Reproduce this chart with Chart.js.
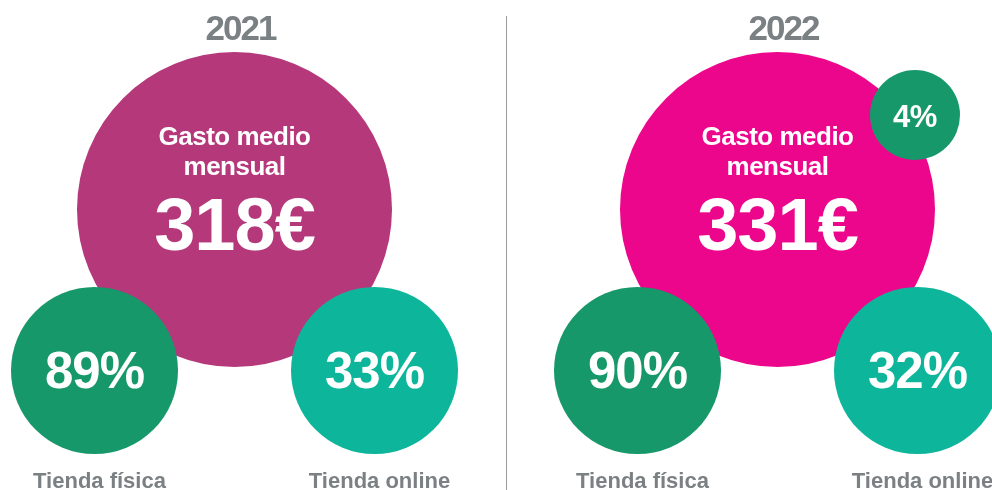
<!DOCTYPE html>
<html>
<head>
<meta charset="utf-8">
<script src="https://cdn.jsdelivr.net/npm/chart.js@4/dist/chart.umd.min.js"></script>
<style>
  html, body { margin: 0; padding: 0; background: #fff; }
  #chart { display: block; }
</style>
</head>
<body>
<canvas id="chart" width="992" height="490"></canvas>
<script>
// data
var years = ['2021', '2022'];
var gastoMedio = [318, 331];      // euros
var tiendaFisica = [89, 90];      // %
var tiendaOnline = [33, 32];      // %
var extraShare = [null, 4];       // small unlabelled bubble, only in 2022
var storeLabels = ['Tienda física', 'Tienda online'];

// layout (px, the scales below map 1 unit = 1 px)
var PANEL_X0 = 234.5, PANEL_STEP = 543;
var BIG_Y = 209.5, BIG_R = 157.5;
var SMALL_DX = 140, SMALL_Y = 370.5, SMALL_R = 83.5;
var EXTRA_DX = 137.5, EXTRA_DY = -94.5, EXTRA_R = 45;

var FONT = '"Liberation Sans", Arial, Helvetica, sans-serif';
var GREY = '#7b8083';

function panelX(i) { return PANEL_X0 + i * PANEL_STEP; }

var bigData = years.map(function (y, i) {
    return { x: panelX(i), y: BIG_Y, r: BIG_R, label: gastoMedio[i] + '€' };
});
var fisicaData = years.map(function (y, i) {
    return { x: panelX(i) - SMALL_DX, y: SMALL_Y, r: SMALL_R, label: tiendaFisica[i] + '%' };
});
var onlineData = years.map(function (y, i) {
    return { x: panelX(i) + SMALL_DX, y: SMALL_Y, r: SMALL_R, label: tiendaOnline[i] + '%' };
});
var extraData = [];
for (var i = 0; i < years.length; i++) {
    if (extraShare[i] != null) {
        extraData.push({ x: panelX(i) + EXTRA_DX, y: BIG_Y + EXTRA_DY, r: EXTRA_R, label: extraShare[i] + '%' });
    }
}

function drawText(ctx, txt, x, y, size, color, spacing) {
    ctx.font = 'bold ' + size + 'px ' + FONT;
    ctx.fillStyle = color;
    ctx.textAlign = 'center';
    ctx.textBaseline = 'alphabetic';
    ctx.letterSpacing = (spacing || 0) + 'px';
    ctx.fillText(txt, x, y);
    ctx.letterSpacing = '0px';
}

var labelsPlugin = {
    id: 'bubbleLabels',
    beforeDatasetsDraw: function (chart) {
        var ctx = chart.ctx;
        var xs = chart.scales.x, ys = chart.scales.y;
        ctx.save();
        // divider between years
        var midX = Math.round(xs.getPixelForValue((panelX(0) + panelX(1)) / 2)) + 0.5;
        ctx.strokeStyle = '#9a9a9a';
        ctx.lineWidth = 1;
        ctx.beginPath();
        ctx.moveTo(midX, ys.getPixelForValue(16));
        ctx.lineTo(midX, ys.getPixelForValue(490));
        ctx.stroke();
        ctx.restore();
    },
    afterDatasetsDraw: function (chart) {
        var ctx = chart.ctx;
        ctx.save();
        // big bubbles
        chart.getDatasetMeta(0).data.forEach(function (el, i) {
            drawText(ctx, years[i], el.x + 6, el.y - 169.5, 35, GREY, -2);
            drawText(ctx, 'Gasto medio', el.x, el.y - 64.5, 26, '#fff', -0.5);
            drawText(ctx, 'mensual', el.x, el.y - 34.5, 26, '#fff', -0.5);
            drawText(ctx, bigData[i].label, el.x, el.y + 40.5, 74, '#fff', -1);
        });
        // store bubbles
        [1, 2].forEach(function (d) {
            var src = d === 1 ? fisicaData : onlineData;
            chart.getDatasetMeta(d).data.forEach(function (el, i) {
                drawText(ctx, src[i].label, el.x, el.y + 17, 51, '#fff', -1);
                drawText(ctx, storeLabels[d - 1], el.x + 5, el.y + 117.5, 22, GREY, 0);
            });
        });
        chart.getDatasetMeta(3).data.forEach(function (el, i) {
            drawText(ctx, extraData[i].label, el.x, el.y + 11.5, 31, '#fff', -0.5);
        });
        ctx.restore();
    }
};

var ctx = document.getElementById('chart').getContext('2d');
var chart = new Chart(ctx, {
    type: 'bubble',
    data: {
        datasets: [
            { label: 'Gasto medio mensual', data: bigData, backgroundColor: ['#b5387b', '#ec068c'], borderWidth: 0, order: 3, clip: false },
            { label: storeLabels[0], data: fisicaData, backgroundColor: '#17986a', borderWidth: 0, order: 1, clip: false },
            { label: storeLabels[1], data: onlineData, backgroundColor: '#0db59a', borderWidth: 0, order: 1, clip: false },
            { label: 'extra', data: extraData, backgroundColor: '#17986a', borderWidth: 0, order: 1, clip: false }
        ]
    },
    options: {
        responsive: false,
        animation: false,
        events: [],
        layout: { padding: 0, autoPadding: false },
        plugins: { legend: { display: false }, tooltip: { enabled: false } },
        scales: {
            x: { type: 'linear', min: 0, max: 992, display: false },
            y: { type: 'linear', min: 0, max: 490, reverse: true, display: false }
        }
    },
    plugins: [labelsPlugin]
});
</script>
</body>
</html>
